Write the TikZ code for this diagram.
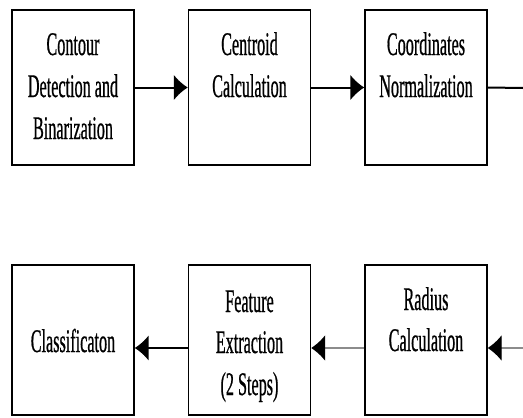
\documentclass[tikz,border=0pt]{standalone}
\usepackage{fontspec}
\setmainfont{Liberation Serif}[FakeStretch=0.49,FakeBold=0.6]
\usetikzlibrary{arrows.meta}
\tikzset{
  box/.style={draw=black, line width=1.4pt, minimum width=122pt, minimum height=155pt, inner sep=0pt},
  boxlow/.style={box, minimum height=150pt},
  txt/.style={anchor=base, inner sep=0pt, font=\fontsize{33}{42}\selectfont},
  flowthick/.style={line width=2pt, -{Latex[length=14pt,width=26pt]}},
  flowthin/.style={line width=1.2pt, draw=black!45, -{Latex[length=14pt,width=26pt,fill=black,color=black]}},
  flowplain/.style={line width=2pt}
}
\begin{document}
\begin{tikzpicture}[x=1pt,y=-1pt]
\useasboundingbox (0,0) rectangle (523,418);
% top row
\node[box] (b1) at (73,87.5) {};
\node[box] (b2) at (249.5,87.5) {};
\node[box] (b3) at (426,87.5) {};
% bottom row
\node[boxlow] (b4) at (73,340) {};
\node[boxlow] (b5) at (249.5,340) {};
\node[boxlow] (b6) at (426,340) {};
% texts
\node[txt] (t1a) at (73,55) {Contour};
\node[txt] (t1b) at (73,97) {Detection and};
\node[txt] (t1c) at (73,139) {Binarization};
\node[txt] (t2a) at (249.5,55) {Centroid};
\node[txt] (t2b) at (249.5,97) {Calculation};
\node[txt] (t3a) at (426,55) {Coordinates};
\node[txt] (t3b) at (426,97) {Normalization};
\node[txt] (t4a) at (73,352) {Classificaton};
\node[txt] (t5a) at (249.5,312) {Feature};
\node[txt] (t5b) at (249.5,353) {Extraction};
\node[txt] (t5c) at (249.5,395) {(2 Steps)};
\node[txt] (t6a) at (426,310) {Radius};
\node[txt] (t6b) at (426,351) {Calculation};
% connectors
\coordinate (r1) at (523,88);
\coordinate (r2) at (523,348);
\draw[flowthick] (b1.east) -- (b2.west);
\draw[flowthick] (b2.east) -- (b3.west);
\draw[flowplain] (b3.east) -- (r1);
\draw[flowthin] (r2) -- ([yshift=-8pt]b6.east);
\draw[flowthin] ([yshift=-8pt]b6.west) -- ([yshift=-8pt]b5.east);
\draw[flowthick] ([yshift=-8pt]b5.west) -- ([yshift=-8pt]b4.east);
\end{tikzpicture}
\end{document}
